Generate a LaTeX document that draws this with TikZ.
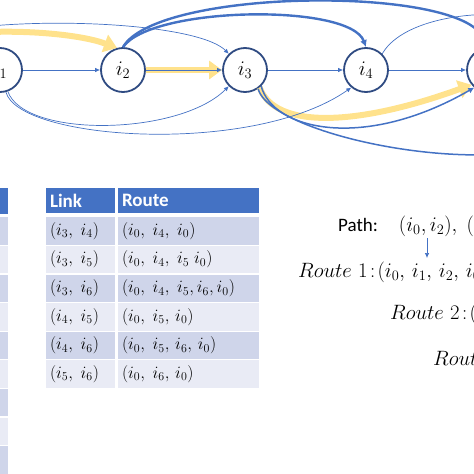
\documentclass[tikz,border=0pt]{standalone}
\usepackage{amsmath}
\usepackage{fontspec}
\usepackage{tikz}
\usetikzlibrary{calc}
\usetikzlibrary{positioning}
\usetikzlibrary{arrows.meta}

\newfontfamily\calibri{Carlito}
\definecolor{linkblue}{HTML}{4472C4}
\definecolor{ringblue}{HTML}{2F4B82}
\definecolor{trailgold}{HTML}{FFE28C}
\definecolor{rowdark}{HTML}{CFD5EA}
\definecolor{rowlight}{HTML}{E9EBF5}

\tikzset{
  city/.style={circle,draw=ringblue,line width=1.8pt,fill=white,minimum size=44pt,inner sep=0pt,font=\fontsize{21}{23}\selectfont},
  thinlink/.style={linkblue,line width=0.7pt,-{Latex[length=5pt,width=4.5pt]}},
  midlink/.style={linkblue,line width=1.5pt,-{Latex[length=6pt,width=6pt]}},
  boldlink/.style={linkblue,line width=2.4pt,-{Latex[length=7pt,width=7pt]}},
  trail/.style={trailgold,line width=6pt,-{Triangle[length=13pt,width=18pt]}},
  headcell/.style={fill=linkblue,draw=white,line width=1.2pt,text=white,minimum height=27pt,inner xsep=5pt,align=left,font=\calibri\bfseries\fontsize{19}{21}\selectfont},
  bodycell/.style={draw=white,line width=1.2pt,minimum height=28.6pt,inner xsep=5pt,align=left,font=\fontsize{16.5}{18}\selectfont},
  caption/.style={anchor=base west,inner sep=0pt,font=\fontsize{21}{23}\selectfont}
}

\begin{document}
\begin{tikzpicture}[x=1pt,y=1pt]
\useasboundingbox (0,0) rectangle (474,-474);
\clip (0,0) rectangle (474,-474);

\node[city] (i0) at (-121,-70) {$i_0$};
\node[city] (i1) at (0,-70) {$i_1$};
\node[city] (i2) at (123,-70) {$i_2$};
\node[city] (i3) at (245,-70) {$i_3$};
\node[city] (i4) at (366,-70) {$i_4$};
\node[city] (i5) at (489,-70) {$i_5$};
\node[city] (i6) at (611,-70) {$i_6$};

\draw[trail] (i0.40) .. controls +(50:40) and +(160:60) .. (i2.105);
\draw[trail] (i2) -- (i3);
\draw[trail] (i3.-50) .. controls +(-70:45) and +(-160:120) .. (i5.-140);

\foreach \a/\b in {i1/i2,i2/i3,i3/i4,i4/i5}
{
	\draw[thinlink] (\a) -- (\b);
}
\draw[thinlink] (i0.50) .. controls +(50:52) and +(135:55) .. (i3.135);
\draw[thinlink] (i1.-70) .. controls +(-70:50) and +(-135:70) .. (i3.-135);
\draw[thinlink] (i1.-75) .. controls +(-75:50) and +(-145:120) .. (i4.-130);
\draw[thinlink] (i4.45) .. controls +(60:60) and +(120:60) .. (i6.135);

\draw[boldlink] (i2.90) .. controls +(55:50) and +(110:47) .. (i4.90);
\draw[boldlink] (i2.90) .. controls +(60:70) and +(100:63) .. (i5.100);
\draw[midlink] (i3.-45) .. controls +(-75:45) and +(-150:128) .. (i5.-130);
\draw[midlink] (i3.-55) .. controls +(-75:60) and +(-90:110) .. (i6.-120);

\fill[linkblue] (-20,-187.6) rectangle (8,-213.8);
\foreach \k in {1,...,9}
{
	\pgfmathsetmacro{\rowtop}{-216.7-28.6*(\k-1)}
	\ifodd\k
		\fill[rowdark] (-20,\rowtop-0.6) rectangle (8,\rowtop-28);
	\else
		\fill[rowlight] (-20,\rowtop-0.6) rectangle (8,\rowtop-28);
	\fi
}

\node[headcell,text width=61pt] (lkhead) at (80.5,-200.5) {Link};
\node[headcell,text width=133pt] (rthead) at (188.5,-200.5) {Route};
\foreach \k/\shade/\lnk/\rte in {
	1/rowdark/{(i_3,\; i_4)}/{(i_0,\; i_4,\; i_0)},
	2/rowlight/{(i_3,\; i_5)}/{(i_0,\; i_4,\; i_5\; i_0)},
	3/rowdark/{(i_3,\; i_6)}/{(i_0,\; i_4,\; i_5, i_6, i_0)},
	4/rowlight/{(i_4,\; i_5)}/{(i_0,\; i_5,\, i_0)},
	5/rowdark/{(i_4,\; i_6)}/{(i_0,\; i_5,\, i_6,\, i_0)},
	6/rowlight/{(i_5,\; i_6)}/{(i_0,\; i_6,\, i_0)}}
{
	\pgfmathsetmacro{\rowy}{-231-28.6*(\k-1)}
	\node[bodycell,fill=\shade,text width=61pt] (lk\k) at (80.5,\rowy) {$\lnk$};
	\node[bodycell,fill=\shade,text width=133pt] (rt\k) at (188.5,\rowy) {$\rte$};
}

\node[caption] (path) at (338,-231) {{\calibri\fontsize{19}{21}\selectfont Path:}\hspace{21pt}$(i_0,i_2),\; ($};
\node[caption] (route1) at (298,-277) {$Route\ 1\!:\!(i_0,\, i_1,\, i_2,\, i_0$};
\node[caption] (route2) at (390,-319) {$Route\ 2\!:\!($};
\node[caption] (route3) at (433,-365) {$Rout$};
\coordinate (drop) at (427,-238);
\coordinate (land) at (427,-258);
\draw[thinlink] (drop) -- (land);
\end{tikzpicture}
\end{document}
